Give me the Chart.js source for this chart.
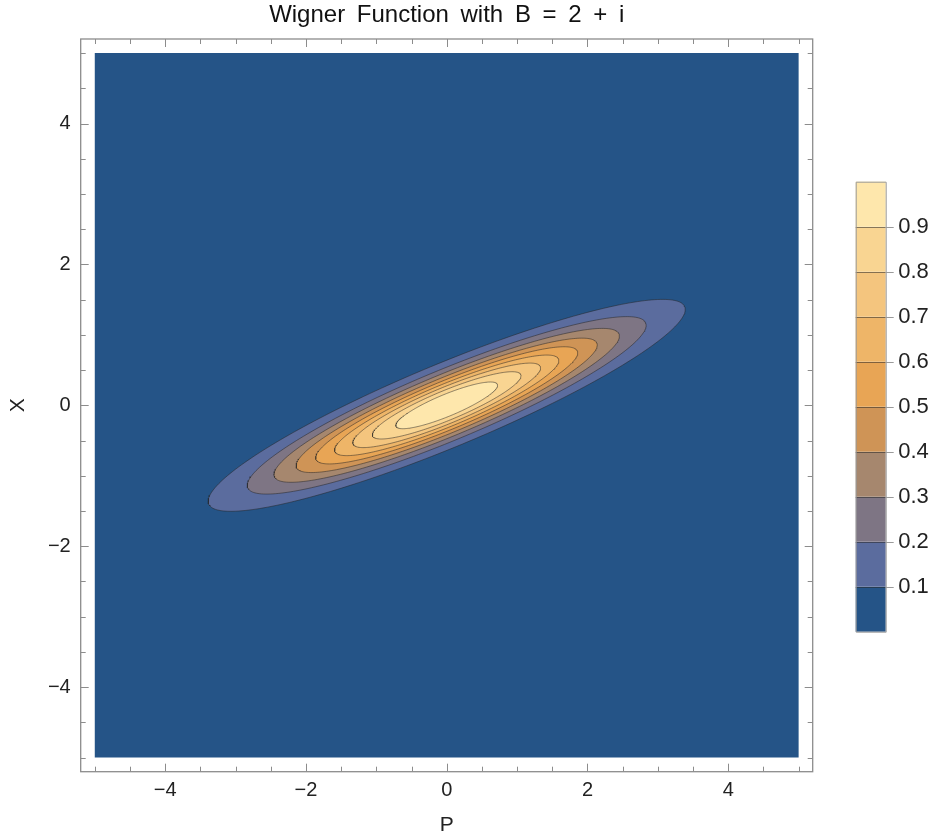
<!DOCTYPE html>
<html><head><meta charset="utf-8">
<script src="https://cdn.jsdelivr.net/npm/chart.js@4.4.1/dist/chart.umd.min.js"></script>
<style>html,body{margin:0;padding:0;background:#fff;}canvas{display:block;}</style>
</head><body>
<canvas id="c" width="935" height="840"></canvas>
<script>
// ---- data ----
const chartTitle = 'Wigner Function with B = 2 + i';
const xAxisLabel = 'P';
const yAxisLabel = 'X';
const axisTicks = [-4, -2, 0, 2, 4];
const minorTicks = [-5,-4.5,-3.5,-3,-2.5,-1.5,-1,-0.5,0.5,1,1.5,2.5,3,3.5,4.5,5];
const domainMin = -5, domainMax = 5;
const contourLevels = [0.1, 0.2, 0.3, 0.4, 0.5, 0.6, 0.7, 0.8, 0.9];
// contour ellipses (centred at origin): semi-axes in data units, tilt in degrees
const semiMajor = [3.66, 3.06, 2.65, 2.31, 2.01, 1.72, 1.44, 1.14, 0.78];
const semiMinor = [0.593, 0.502, 0.439, 0.388, 0.342, 0.299, 0.256, 0.210, 0.156];
const tiltDeg = 22.5;
const bandColors = ['#255487','#5B6C9E','#7E7584','#A6876E','#CF9456','#E8A555','#EEB568','#F4C57E','#F9D592','#FEE7AC'];

// ---- build polygons ----
function ellipsePts(a, b, deg) {
  const th = deg * Math.PI / 180, c = Math.cos(th), s = Math.sin(th);
  const pts = [];
  const N = 240;
  for (let k = 0; k <= N; k++) {
    const t = 2 * Math.PI * k / N;
    const u = a * Math.cos(t), v = b * Math.sin(t);
    pts.push({x: u * c - v * s, y: u * s + v * c});
  }
  return pts;
}
const datasets = [];
for (let i = contourLevels.length - 1; i >= 0; i--) {
  datasets.push({
    label: 'W ≥ ' + contourLevels[i],
    data: ellipsePts(semiMajor[i], semiMinor[i], tiltDeg),
    showLine: true, fill: 'shape',
    backgroundColor: bandColors[i + 1],
    borderColor: 'rgba(35,35,35,0.5)', borderWidth: 1,
    pointRadius: 0, tension: 0
  });
}
datasets.push({
  label: 'W < 0.1',
  data: [{x: domainMin, y: domainMin}, {x: domainMax, y: domainMin}, {x: domainMax, y: domainMax}, {x: domainMin, y: domainMax}, {x: domainMin, y: domainMin}],
  showLine: true, fill: 'shape', backgroundColor: bandColors[0],
  borderColor: bandColors[0], borderWidth: 0, pointRadius: 0, tension: 0
});

const fmt = v => (v < 0 ? '\u2212' + Math.abs(v) : String(v));
const FONT = '"Liberation Sans", Arial, sans-serif';

const framePlugin = {
  id: 'frame',
  afterDraw(chart) {
    const ctx = chart.ctx, a = chart.chartArea, sx = chart.scales.x, sy = chart.scales.y;
    ctx.save();
    // title
    ctx.wordSpacing = '5px';
    ctx.fillStyle = '#111';
    ctx.font = '24px ' + FONT;
    ctx.textAlign = 'center';
    ctx.textBaseline = 'alphabetic';
    ctx.fillText(chartTitle, (a.left + a.right) / 2, 22);
    ctx.wordSpacing = '0px';

    ctx.strokeStyle = '#8c8c8c';
    ctx.lineWidth = 1.3;
    ctx.strokeRect(a.left, a.top, a.right - a.left, a.bottom - a.top);
    ctx.lineWidth = 1;
    ctx.beginPath();
    const tick = (v, len) => {
      const px = Math.round(sx.getPixelForValue(v)) + 0.5;
      ctx.moveTo(px, a.bottom); ctx.lineTo(px, a.bottom - len);
      ctx.moveTo(px, a.top); ctx.lineTo(px, a.top + len);
      const py = Math.round(sy.getPixelForValue(v)) + 0.5;
      ctx.moveTo(a.left, py); ctx.lineTo(a.left + len, py);
      ctx.moveTo(a.right, py); ctx.lineTo(a.right - len, py);
    };
    axisTicks.forEach(v => tick(v, 8));
    minorTicks.forEach(v => tick(v, 5));
    ctx.stroke();

    // colour bar
    const cb = chart.scales.cb;
    const x0 = a.right + 43, w = 30;
    const edges = [0, ...contourLevels, 1];
    for (let i = 0; i < bandColors.length; i++) {
      const y1 = cb.getPixelForValue(edges[i + 1]), y0 = cb.getPixelForValue(edges[i]);
      ctx.fillStyle = bandColors[i];
      ctx.fillRect(x0, y1, w, y0 - y1);
    }
    ctx.strokeStyle = 'rgba(40,40,40,0.55)';
    ctx.beginPath();
    contourLevels.forEach(v => {
      const py = Math.round(cb.getPixelForValue(v)) + 0.5;
      ctx.moveTo(x0, py); ctx.lineTo(x0 + w, py);
    });
    ctx.stroke();
    ctx.strokeStyle = '#9a9a9a';
    ctx.beginPath();
    const top = cb.getPixelForValue(1), bot = cb.getPixelForValue(0);
    ctx.rect(x0 + 0.5, top + 0.5, w, bot - top);
    contourLevels.forEach(v => {
      const py = Math.round(cb.getPixelForValue(v)) + 0.5;
      ctx.moveTo(x0 + w, py); ctx.lineTo(x0 + w + 8, py);
    });
    ctx.stroke();
    ctx.restore();
  }
};

new Chart(document.getElementById('c'), {
  type: 'scatter',
  data: {datasets},
  options: {
    responsive: false, animation: false, devicePixelRatio: 1,
    layout: {padding: {left: 0, right: 0, top: 39, bottom: 0}},
    plugins: {
      legend: {display: false}, tooltip: {enabled: false}, title: {display: false}
    },
    scales: {
      x: {
        type: 'linear', min: -5.2, max: 5.2,
        afterBuildTicks: s => { s.ticks = axisTicks.map(v => ({value: v})); },
        afterFit: s => { s.height = 68.3; },
        grid: {display: false, drawTicks: false}, border: {display: false},
        ticks: {callback: fmt, color: '#222', padding: 7, autoSkip: false, maxRotation: 0,
          font: {family: FONT, size: 20}},
        title: {display: true, text: xAxisLabel, color: '#222', padding: {top: 0, bottom: 2},
          font: {family: FONT, size: 21}}
      },
      y: {
        type: 'linear', min: -5.2, max: 5.2,
        afterBuildTicks: s => { s.ticks = axisTicks.map(v => ({value: v})); },
        afterFit: s => { s.width = 80.7; },
        grid: {display: false, drawTicks: false}, border: {display: false},
        ticks: {callback: fmt, color: '#222', padding: 10, autoSkip: false,
          font: {family: FONT, size: 20}},
        title: {display: true, text: yAxisLabel, color: '#222', padding: {top: 6, bottom: 0},
          font: {family: FONT, size: 21}}
      },
      cb: {
        type: 'linear', position: 'right', axis: 'y', min: -0.3111, max: 1.3171,
        afterBuildTicks: s => { s.ticks = contourLevels.map(v => ({value: v})); },
        afterFit: s => { s.width = 122.3; },
        grid: {display: false, drawTicks: true, tickLength: 85.5}, border: {display: false},
        ticks: {callback: v => v.toFixed(1), color: '#222', padding: 0, autoSkip: false,
          font: {family: FONT, size: 22}}
      }
    }
  },
  plugins: [framePlugin]
});
</script>
</body></html>
